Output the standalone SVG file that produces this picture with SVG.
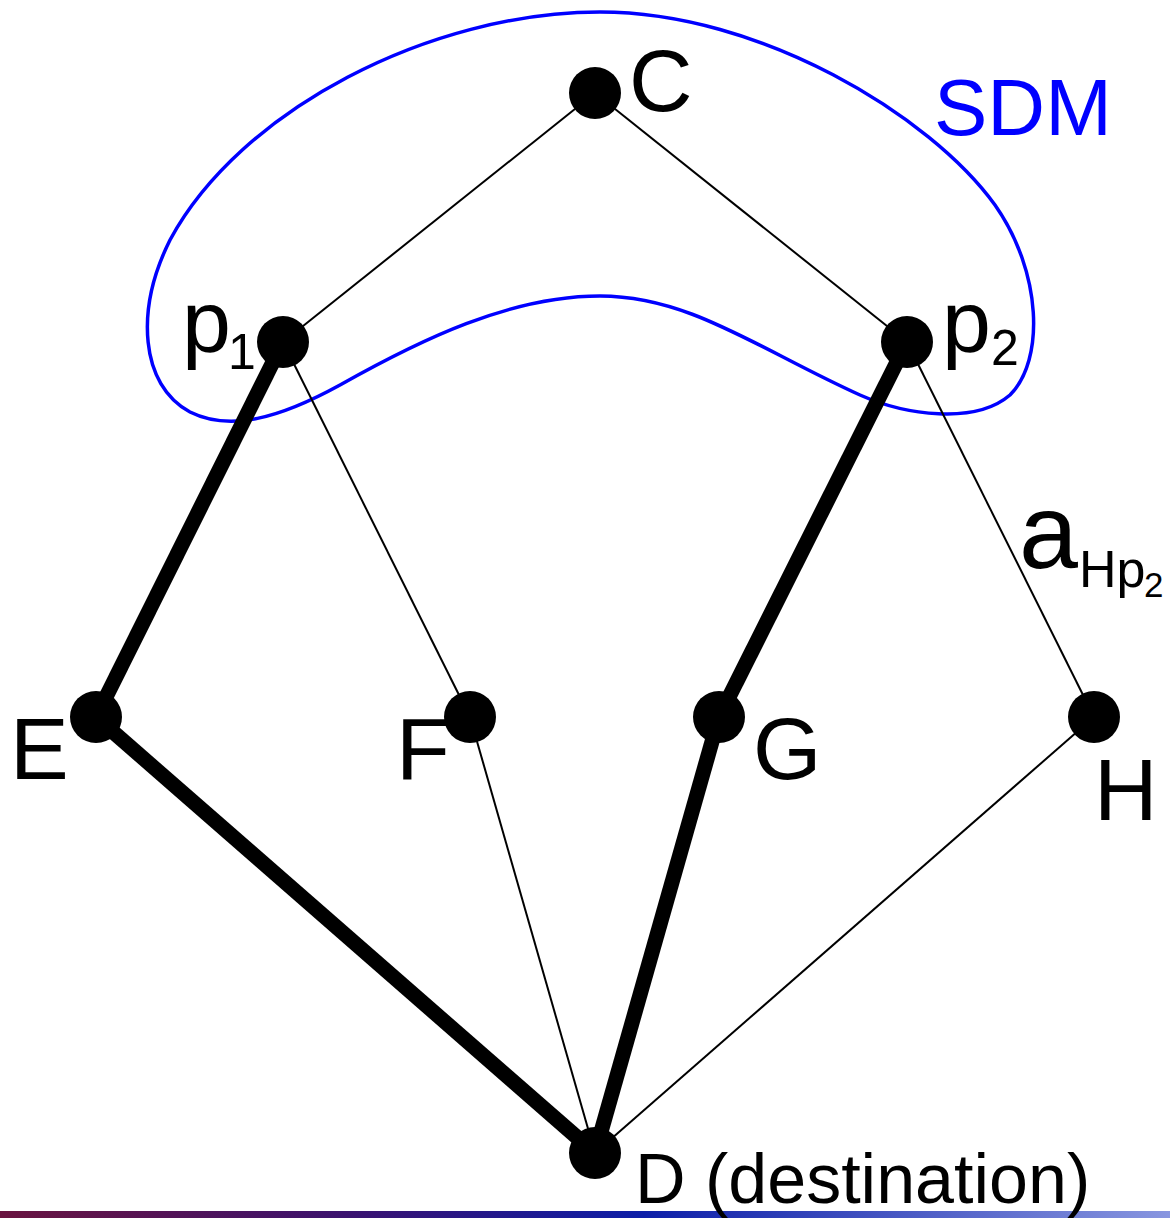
<svg xmlns="http://www.w3.org/2000/svg" width="1170" height="1218" viewBox="0 0 1170 1218">
<defs>
<linearGradient id="bar" x1="0" y1="0" x2="1" y2="0">
<stop offset="0" stop-color="#6a1440"/>
<stop offset="0.3" stop-color="#3a1270"/>
<stop offset="0.55" stop-color="#0c1ea8"/>
<stop offset="1" stop-color="#8896e0"/>
</linearGradient>
<style>
.thin{stroke:#000;stroke-width:2;fill:none}
.thick{stroke:#000;stroke-width:15;fill:none}
.node{fill:#000}
.lbl{font-family:"Liberation Sans",Arial,sans-serif;font-size:88px;fill:#000}
.sub{font-family:"Liberation Sans",Arial,sans-serif;font-size:50px;fill:#000}
</style>
</defs>
<rect x="0" y="1211" width="1170" height="7" fill="url(#bar)"/>
<g id="sdm">
<path d="M600,12 C760,12 930,115 995,205 C1042,272 1045,360 1010,395 C975,425 905,415 860,395 C760,350 690,296 600,296 C510,296 420,340 340,385 C280,418 230,432 190,412 C140,385 135,310 170,240 C240,110 430,12 600,12 Z" fill="none" stroke="#0000ff" stroke-width="3.5"/>
<text x="934" y="135" font-family="Liberation Sans, Arial, sans-serif" font-size="80" fill="#0000ff">SDM</text>
</g>
<g id="connectors">
<line class="thin" x1="595" y1="93" x2="283" y2="342"/>
<line class="thin" x1="595" y1="93" x2="907" y2="342"/>
<line class="thin" x1="283" y1="342" x2="470" y2="717"/>
<line class="thin" x1="907" y1="342" x2="1094" y2="717"/>
<line class="thin" x1="470" y1="717" x2="595" y2="1153"/>
<line class="thin" x1="1094" y1="717" x2="595" y2="1153"/>
<line class="thick" x1="283" y1="342" x2="96" y2="717"/>
<line class="thick" x1="96" y1="717" x2="595" y2="1153"/>
<line class="thick" x1="907" y1="342" x2="719" y2="717"/>
<line class="thick" x1="719" y1="717" x2="595" y2="1153"/>
<text x="1019" y="568" font-family="Liberation Sans, Arial, sans-serif" font-size="106" fill="#000">a</text>
<text x="1079" y="587" font-family="Liberation Sans, Arial, sans-serif" font-size="52" fill="#000">Hp</text>
<text x="1144" y="597" font-family="Liberation Sans, Arial, sans-serif" font-size="35" fill="#000">2</text>
</g>
<g id="node-C"><circle class="node" cx="595" cy="93" r="26"/><text class="lbl" x="629" y="111">C</text></g>
<g id="node-p1"><circle class="node" cx="283" cy="342" r="26"/><text class="lbl" x="182" y="352">p</text><text class="sub" x="228" y="369">1</text></g>
<g id="node-p2"><circle class="node" cx="907" cy="342" r="26"/><text class="lbl" x="942" y="352">p</text><text class="sub" x="991" y="365">2</text></g>
<g id="node-E"><circle class="node" cx="96" cy="717" r="26"/><text class="lbl" x="10" y="779">E</text></g>
<g id="node-F"><circle class="node" cx="470" cy="717" r="26"/><text class="lbl" x="396" y="779">F</text></g>
<g id="node-G"><circle class="node" cx="719" cy="717" r="26"/><text class="lbl" x="753" y="779">G</text></g>
<g id="node-H"><circle class="node" cx="1094" cy="717" r="26"/><text class="lbl" x="1094" y="820">H</text></g>
<g id="node-D"><circle class="node" cx="595" cy="1153" r="26"/><text class="lbl" x="635" y="1203" style="font-size:70px">D (destination)</text></g>
</svg>
